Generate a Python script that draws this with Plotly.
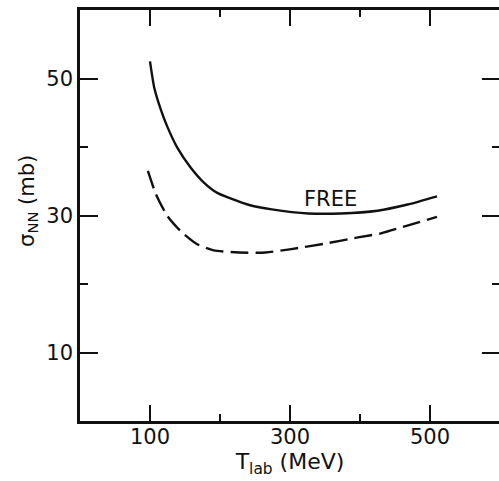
import plotly.graph_objects as go

# Data
T_free = [100, 106, 116, 125, 139, 158, 177, 196, 215, 243, 274, 326, 373, 425, 468, 510]
sigma_free = [52.5, 48.7, 45.3, 42.9, 39.9, 37.0, 34.8, 33.3, 32.5, 31.5, 30.9, 30.3, 30.3, 30.7, 31.6, 32.8]

T_medium = [97, 108.5, 125, 144, 167.5, 191, 227, 265, 302, 350, 397, 430, 470, 510]
sigma_medium = [36.5, 33.1, 29.9, 27.7, 25.8, 24.9, 24.6, 24.6, 25.1, 25.9, 26.8, 27.4, 28.6, 29.8]

x_ticks = [100, 300, 500]
y_ticks = [10, 30, 50]
free_label = dict(text="FREE", x=358, y=32.4)

FONT = "DejaVu Sans"
ink = "#111111"

fig = go.Figure()
fig.add_trace(go.Scatter(x=T_free, y=sigma_free, mode="lines",
                         line=dict(color=ink, width=2.4, shape="spline", smoothing=0.6),
                         showlegend=False, hoverinfo="skip"))
fig.add_trace(go.Scatter(x=T_medium, y=sigma_medium, mode="lines",
                         line=dict(color=ink, width=2.4, shape="spline", smoothing=0.6, dash="18px,7px"),
                         showlegend=False, hoverinfo="skip"))

# The original figure is cropped on its right: the frame's right side lies just past the picture edge.
fig.update_layout(
    width=503, height=481,
    margin=dict(l=80, r=0, t=10, b=60),
    paper_bgcolor="white", plot_bgcolor="white",
    font=dict(family=FONT, color=ink, size=20),
    xaxis=dict(range=[0, 600], tickvals=x_ticks, ticktext=[str(v) for v in x_ticks],
               ticks="inside", ticklen=16, tickwidth=2.2, tickcolor=ink,
               showline=True, linewidth=2.5, linecolor=ink, mirror="ticks",
               showgrid=False, zeroline=False,
               tickfont=dict(size=21), ticklabelstandoff=-5,
               minor=dict(tickvals=[200, 400], ticks="inside", ticklen=7, tickwidth=2.2, tickcolor=ink, showgrid=False),
               title=dict(text="T<sub>lab</sub> (MeV)", font=dict(size=22), standoff=0)),
    yaxis=dict(range=[0, 60], tickvals=y_ticks, ticktext=[str(v) for v in y_ticks],
               ticks="inside", ticklen=18, tickwidth=2.2, tickcolor=ink,
               showline=True, linewidth=2.5, linecolor=ink, mirror="ticks",
               showgrid=False, zeroline=False,
               tickfont=dict(size=21), ticklabelstandoff=0,
               minor=dict(tickvals=[20, 40], ticks="inside", ticklen=8, tickwidth=2.2, tickcolor=ink, showgrid=False)),
)

fig.add_annotation(x=free_label["x"], y=free_label["y"], text=free_label["text"],
                   showarrow=False, font=dict(size=21, family=FONT, color=ink))
fig.add_annotation(xref="paper", yref="paper", x=-0.16, y=0.535, text="σ<sub>NN</sub> (mb)",
                   textangle=-90, showarrow=False, font=dict(size=21, family=FONT, color=ink))

fig.write_html("out.html", config={"displayModeBar": False},
               post_script=("document.documentElement.style.margin='0';"
                            "document.body.style.margin='0';document.body.style.padding='0';"
                            "document.documentElement.style.overflow='hidden';"
                            "document.body.style.overflow='hidden';"))
